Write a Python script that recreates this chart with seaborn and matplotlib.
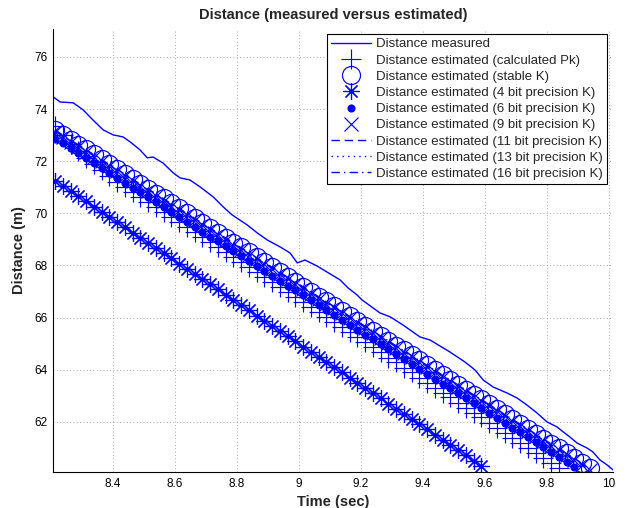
import matplotlib
matplotlib.use("Agg")
import matplotlib.pyplot as plt
import seaborn as sns

# time grid of the estimates (sec)
t_est = [8.213, 8.238, 8.263, 8.288, 8.313, 8.338, 8.363, 8.388, 8.413, 8.438,
         8.463, 8.488, 8.513, 8.538, 8.563, 8.588, 8.613, 8.638, 8.663, 8.688,
         8.713, 8.738, 8.763, 8.788, 8.813, 8.838, 8.863, 8.888, 8.913, 8.938,
         8.963, 8.988, 9.013, 9.038, 9.063, 9.088, 9.113, 9.138, 9.163, 9.188,
         9.213, 9.238, 9.263, 9.288, 9.313, 9.338, 9.363, 9.388, 9.413, 9.438,
         9.463, 9.488, 9.513, 9.538, 9.563, 9.588, 9.613, 9.638, 9.663, 9.688,
         9.713, 9.738, 9.763, 9.788, 9.813, 9.838, 9.863, 9.888, 9.913, 9.938]

# measured distance (traced)
meas_t = [8.206, 8.229, 8.271, 8.303, 8.335, 8.368, 8.400, 8.432, 8.455, 8.487,
          8.510, 8.529, 8.561, 8.594, 8.616, 8.648, 8.681, 8.723, 8.755, 8.784,
          8.832, 8.865, 8.897, 8.939, 8.971, 8.994, 9.019, 9.058, 9.090, 9.132,
          9.158, 9.187, 9.203, 9.239, 9.261, 9.294, 9.335, 9.390, 9.423, 9.487,
          9.535, 9.568, 9.594, 9.626, 9.671, 9.703, 9.735, 9.768, 9.800, 9.832,
          9.852, 9.874, 9.897, 9.929, 9.948, 9.971, 9.994, 10.013]
meas_d = [74.47, 74.27, 74.24, 73.97, 73.58, 73.20, 73.01, 72.93, 72.74, 72.43,
          72.13, 72.16, 71.93, 71.55, 71.36, 71.28, 71.01, 70.63, 70.25, 69.94,
          69.56, 69.25, 68.98, 68.71, 68.48, 68.10, 68.21, 67.98, 67.75, 67.45,
          67.14, 66.87, 66.68, 66.37, 66.18, 66.03, 65.72, 65.26, 65.14, 64.68,
          64.30, 63.99, 63.61, 63.34, 63.11, 62.92, 62.65, 62.34, 62.00, 61.81,
          61.62, 61.42, 61.19, 61.00, 60.85, 60.54, 60.35, 60.16]

calc_pk = [73.35, 73.01, 72.67, 72.39, 72.13, 71.88, 71.65, 71.43, 71.22, 71.01,
           70.82, 70.62, 70.43, 70.25, 70.05, 69.86, 69.66, 69.48, 69.28, 69.09,
           68.90, 68.70, 68.52, 68.32, 68.13, 67.93, 67.74, 67.55, 67.36, 67.16,
           66.97, 66.79, 66.59, 66.40, 66.20, 66.01, 65.82, 65.63, 65.43, 65.24,
           65.05, 64.86, 64.67, 64.47, 64.28, 64.08, 63.90, 63.70, 63.51, 63.31,
           63.12, 62.94, 62.74, 62.55, 62.35, 62.17, 61.97, 61.78, 61.58, 61.39,
           61.20, 61.01, 60.82, 60.62, 60.43, 60.24]

stable_k = [73.20, 73.01, 72.82, 72.64, 72.45, 72.26, 72.07, 71.88, 71.70, 71.51,
            71.32, 71.13, 70.94, 70.76, 70.57, 70.38, 70.19, 70.01, 69.82, 69.63,
            69.44, 69.25, 69.07, 68.88, 68.69, 68.50, 68.31, 68.13, 67.94, 67.75,
            67.56, 67.38, 67.19, 67.00, 66.81, 66.62, 66.44, 66.25, 66.06, 65.87,
            65.68, 65.50, 65.31, 65.12, 64.93, 64.74, 64.56, 64.37, 64.18, 63.99,
            63.80, 63.62, 63.43, 63.24, 63.05, 62.87, 62.68, 62.49, 62.30, 62.11,
            61.93, 61.74, 61.55, 61.36, 61.17, 60.99, 60.80, 60.61, 60.42, 60.23]

bit4 = [71.25, 71.05, 70.85, 70.65, 70.46, 70.26, 70.06, 69.86, 69.66, 69.46,
        69.26, 69.06, 68.87, 68.67, 68.47, 68.27, 68.07, 67.87, 67.67, 67.47,
        67.28, 67.08, 66.88, 66.68, 66.48, 66.28, 66.08, 65.88, 65.69, 65.49,
        65.29, 65.09, 64.89, 64.69, 64.49, 64.29, 64.10, 63.90, 63.70, 63.50,
        63.30, 63.10, 62.90, 62.70, 62.51, 62.31, 62.11, 61.91, 61.71, 61.51,
        61.31, 61.11, 60.92, 60.72, 60.52, 60.32]

bit6 = [72.87, 72.68, 72.49, 72.31, 72.12, 71.93, 71.74, 71.55, 71.37, 71.18,
        70.99, 70.80, 70.61, 70.43, 70.24, 70.05, 69.86, 69.68, 69.49, 69.30,
        69.11, 68.92, 68.74, 68.55, 68.36, 68.17, 67.98, 67.80, 67.61, 67.42,
        67.23, 67.05, 66.86, 66.67, 66.48, 66.29, 66.11, 65.92, 65.73, 65.54,
        65.35, 65.17, 64.98, 64.79, 64.60, 64.41, 64.23, 64.04, 63.85, 63.66,
        63.47, 63.29, 63.10, 62.91, 62.72, 62.54, 62.35, 62.16, 61.97, 61.78,
        61.60, 61.41, 61.22, 61.03, 60.84, 60.66, 60.47, 60.28]

bit9 = [73.12, 72.93, 72.74, 72.56, 72.37, 72.18, 71.99, 71.80, 71.62, 71.43,
        71.24, 71.05, 70.86, 70.68, 70.49, 70.30, 70.11, 69.93, 69.74, 69.55,
        69.36, 69.17, 68.99, 68.80, 68.61, 68.42, 68.23, 68.05, 67.86, 67.67,
        67.48, 67.30, 67.11, 66.92, 66.73, 66.54, 66.36, 66.17, 65.98, 65.79,
        65.60, 65.42, 65.23, 65.04, 64.85, 64.66, 64.48, 64.29, 64.10, 63.91,
        63.72, 63.54, 63.35, 63.16, 62.97, 62.79, 62.60, 62.41, 62.22, 62.03,
        61.85, 61.66, 61.47, 61.28, 61.09, 60.91, 60.72, 60.53, 60.34, 60.15]

bit11 = [73.15, 72.96, 72.77, 72.59, 72.40, 72.21, 72.02, 71.83, 71.65, 71.46,
         71.27, 71.08, 70.89, 70.71, 70.52, 70.33, 70.14, 69.96, 69.77, 69.58,
         69.39, 69.20, 69.02, 68.83, 68.64, 68.45, 68.26, 68.08, 67.89, 67.70,
         67.51, 67.33, 67.14, 66.95, 66.76, 66.57, 66.39, 66.20, 66.01, 65.82,
         65.63, 65.45, 65.26, 65.07, 64.88, 64.69, 64.51, 64.32, 64.13, 63.94,
         63.75, 63.57, 63.38, 63.19, 63.00, 62.82, 62.63, 62.44, 62.25, 62.06,
         61.88, 61.69, 61.50, 61.31, 61.12, 60.94, 60.75, 60.56, 60.37, 60.18]

bit13 = [73.05, 72.86, 72.67, 72.49, 72.30, 72.11, 71.92, 71.73, 71.55, 71.36,
         71.17, 70.98, 70.79, 70.61, 70.42, 70.23, 70.04, 69.86, 69.67, 69.48,
         69.29, 69.10, 68.92, 68.73, 68.54, 68.35, 68.16, 67.98, 67.79, 67.60,
         67.41, 67.23, 67.04, 66.85, 66.66, 66.47, 66.29, 66.10, 65.91, 65.72,
         65.53, 65.35, 65.16, 64.97, 64.78, 64.59, 64.41, 64.22, 64.03, 63.84,
         63.65, 63.47, 63.28, 63.09, 62.90, 62.72, 62.53, 62.34, 62.15, 61.96,
         61.78, 61.59, 61.40, 61.21, 61.02, 60.84, 60.65, 60.46, 60.27, 60.08]

bit16 = [73.19, 73.00, 72.81, 72.63, 72.44, 72.25, 72.06, 71.87, 71.69, 71.50,
         71.31, 71.12, 70.93, 70.75, 70.56, 70.37, 70.18, 70.00, 69.81, 69.62,
         69.43, 69.24, 69.06, 68.87, 68.68, 68.49, 68.30, 68.12, 67.93, 67.74,
         67.55, 67.37, 67.18, 66.99, 66.80, 66.61, 66.43, 66.24, 66.05, 65.86,
         65.67, 65.49, 65.30, 65.11, 64.92, 64.73, 64.55, 64.36, 64.17, 63.98,
         63.79, 63.61, 63.42, 63.23, 63.04, 62.86, 62.67, 62.48, 62.29, 62.10,
         61.92, 61.73, 61.54, 61.35, 61.16, 60.98, 60.79, 60.60, 60.41, 60.22]

x_ticks = [8.4, 8.6, 8.8, 9.0, 9.2, 9.4, 9.6, 9.8, 10.0]
x_ticklabels = ["8.4", "8.6", "8.8", "9", "9.2", "9.4", "9.6", "9.8", "10"]
y_ticks = [62, 64, 66, 68, 70, 72, 74, 76]

sns.set_style("white")
plt.rcParams["font.family"] = ["Liberation Sans", "DejaVu Sans"]

fig = plt.figure(figsize=(6.31, 5.08), dpi=100)
ax = fig.add_axes([0.084, 0.0709, 0.8875, 0.872])

blue = "#0000ff"
lw = 1.0
mew = 0.85


def markers_only(x, y, marker, ms, label, filled=False):
    sns.lineplot(
        x=x, y=y, ax=ax, sort=False, estimator=None, color=blue,
        linestyle="none", marker=marker, markersize=ms,
        markeredgecolor=blue, markeredgewidth=mew,
        markerfacecolor=blue if filled else "none", label=label,
    )


sns.lineplot(x=meas_t, y=meas_d, ax=ax, sort=False, estimator=None,
             color=blue, linewidth=lw, label="Distance measured")
markers_only(t_est[:len(calc_pk)], calc_pk, "+", 14,
             "Distance estimated (calculated Pk)")
markers_only(t_est, stable_k, "o", 13, "Distance estimated (stable K)")
markers_only(t_est[:len(bit4)], bit4, (8, 2, 0), 12,
             "Distance estimated (4 bit precision K)")
markers_only(t_est[:len(bit6)], bit6, "o", 5,
             "Distance estimated (6 bit precision K)", filled=True)
markers_only(t_est, bit9, "x", 9.5, "Distance estimated (9 bit precision K)")
sns.lineplot(x=t_est, y=bit11, ax=ax, sort=False, estimator=None, color=blue,
             linewidth=lw, label="Distance estimated (11 bit precision K)")
sns.lineplot(x=t_est, y=bit13, ax=ax, sort=False, estimator=None, color=blue,
             linewidth=lw, label="Distance estimated (13 bit precision K)")
sns.lineplot(x=t_est, y=bit16, ax=ax, sort=False, estimator=None, color=blue,
             linewidth=lw, label="Distance estimated (16 bit precision K)")

lines = ax.get_lines()
lines[-3].set_dashes((6, 3.5))
lines[-2].set_dashes((1, 3))
lines[-1].set_dashes((6, 3, 1, 3))

ax.set_xlim(8.206, 10.013)
ax.set_ylim(60.08, 77.07)
ax.set_xticks(x_ticks)
ax.set_xticklabels(x_ticklabels)
ax.set_yticks(y_ticks)
ax.tick_params(direction="in", length=3, width=0.6, labelsize=8.5,
               top=False, right=False, colors="black", pad=4)
ax.grid(True, color="0.55", linewidth=0.6, linestyle=(0, (1, 3)))
for side in ["top", "right"]:
    ax.spines[side].set_visible(False)
for side in ["left", "bottom"]:
    ax.spines[side].set_color("black")
    ax.spines[side].set_linewidth(0.8)

ax.set_title("Distance (measured versus estimated)", fontsize=10.5,
             fontweight="bold", pad=7)
ax.set_xlabel("Time (sec)", fontsize=10.5, fontweight="bold", labelpad=4)
ax.set_ylabel("Distance (m)", fontsize=10.5, fontweight="bold", labelpad=6)

leg = ax.legend(loc="upper right", bbox_to_anchor=(0.989, 0.989),
                borderaxespad=0, fontsize=9.5, handlelength=3.0,
                handletextpad=0.38, labelspacing=0.3, borderpad=0.33,
                fancybox=False, framealpha=1, edgecolor="black", numpoints=1)
leg.get_frame().set_linewidth(0.8)

fig.savefig("out.png", dpi=100)
